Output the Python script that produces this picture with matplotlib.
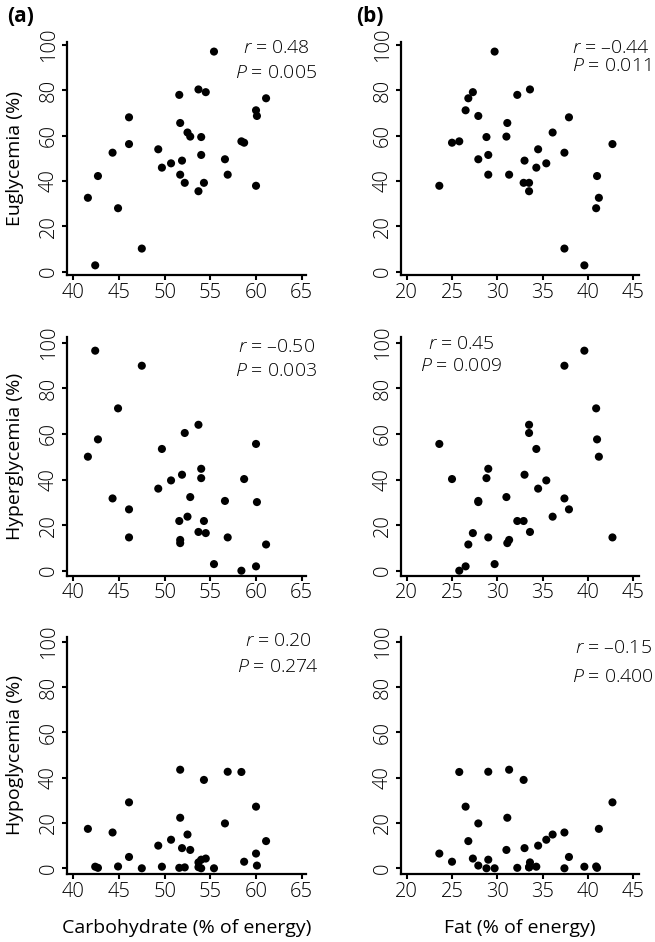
import matplotlib
matplotlib.use('Agg')
import matplotlib.pyplot as plt

# one entry per subject
carb = [55.4, 53.7, 54.5, 51.6, 61.1, 60.0, 60.1, 46.1, 51.7, 52.5, 52.8,
        54.0, 46.1, 58.4, 58.7, 44.3, 49.3, 54.0, 56.6, 51.9, 50.7, 49.7,
        42.7, 51.7, 56.9, 52.2, 54.3, 53.7, 60.0, 41.6, 44.9, 47.5, 42.4]
fat = [29.7, 33.6, 27.3, 32.2, 26.8, 26.5, 27.9, 37.9, 31.1, 36.1, 31.0,
       28.8, 42.7, 25.8, 25.0, 37.4, 34.5, 29.0, 27.9, 33.0, 35.4, 34.3,
       41.0, 31.3, 29.0, 33.5, 32.9, 33.5, 23.6, 41.2, 40.9, 37.4, 39.6]
eu = [97.1, 80.4, 79.2, 78.0, 76.5, 71.2, 68.7, 68.1, 65.6, 61.4, 59.6,
      59.4, 56.3, 57.5, 56.9, 52.5, 54.0, 51.5, 49.6, 49.0, 47.8, 45.9,
      42.2, 42.8, 42.8, 39.2, 39.2, 35.5, 37.9, 32.6, 28.0, 10.2, 2.8]
hyper = [2.9, 17.0, 16.5, 21.8, 11.5, 1.9, 30.1, 26.9, 12.1, 23.7, 32.3,
         40.6, 14.6, 0.0, 40.2, 31.7, 36.0, 44.7, 30.6, 42.1, 39.6, 53.4,
         57.6, 13.5, 14.6, 60.4, 21.8, 64.0, 55.6, 50.0, 71.2, 89.9, 96.5]
hypo = [0.0, 2.6, 4.3, 0.2, 12.0, 27.2, 1.2, 5.0, 22.3, 14.9, 8.1,
        0.0, 29.1, 42.5, 2.9, 15.8, 10.0, 3.8, 19.8, 8.9, 12.6, 0.7,
        0.2, 43.5, 42.6, 0.4, 39.0, 0.5, 6.5, 17.4, 0.8, 0.0, 0.7]

r_carb = ['0.48', '–0.50', '0.20']
p_carb = ['0.005', '0.003', '0.274']
r_fat = ['–0.44', '0.45', '–0.15']
p_fat = ['0.011', '0.009', '0.400']
ylabels = ['Euglycemia (%)', 'Hyperglycemia (%)', 'Hypoglycemia (%)']

plt.rcParams['font.family'] = ['Open Sans', 'DejaVu Sans']
plt.rcParams['font.weight'] = 'light'
plt.rcParams['mathtext.fontset'] = 'custom'
plt.rcParams['mathtext.it'] = 'Open Sans:italic:light'
plt.rcParams['mathtext.rm'] = 'Open Sans:light'

W, H = 655, 942
fig = plt.figure(figsize=(W / 100, H / 100), dpi=100)

rows = [(41.7, 275.0), (337.3, 575.7), (636.7, 874.0)]
cols = [(66.7, 306.0), (400.7, 639.3)]
ylims = [(-1.46, 101.46), (-2.19, 102.37), (-2.52, 102.2)]
xlims = [(39.28, 65.47), (19.34, 45.66)]
# text spots in axes fractions: x, y of r line, y of P line
spots = [
    [(0.875, 0.973, 0.866), (0.881, 0.973, 0.895)],
    [(0.875, 0.959, 0.859), (0.253, 0.971, 0.880)],
    [(0.884, 0.983, 0.874), (0.890, 0.952, 0.832)],
]
outcomes = [eu, hyper, hypo]

for i in range(3):
    top, bot = rows[i]
    for j in range(2):
        left, right = cols[j]
        ax = fig.add_axes([left / W, 1 - bot / H, (right - left) / W, (bot - top) / H])
        xs = carb if j == 0 else fat
        ax.scatter(xs, outcomes[i], s=34, color='black', edgecolors='none', zorder=3)
        ax.set_xlim(xlims[j])
        ax.set_ylim(ylims[i])
        ax.set_yticks([0, 20, 40, 60, 80, 100])
        if j == 0:
            ax.set_xticks([40, 45, 50, 55, 60, 65])
        else:
            ax.set_xticks([20, 25, 30, 35, 40, 45])
        for s in ['top', 'right']:
            ax.spines[s].set_visible(False)
        for s in ['left', 'bottom']:
            ax.spines[s].set_linewidth(1.6)
        ax.tick_params(direction='out', length=3.5, width=1.5, labelsize=14.5, pad=2)
        plt.setp(ax.get_yticklabels(), rotation=90, va='center')
        ax.patch.set_alpha(0)
        r = r_carb[i] if j == 0 else r_fat[i]
        p = p_carb[i] if j == 0 else p_fat[i]
        tx, ry, py = spots[i][j]
        ax.text(tx, ry, '$r$ = ' + r, transform=ax.transAxes, ha='center', va='center', fontsize=14)
        ax.text(tx, py, '$P$ = ' + p, transform=ax.transAxes, ha='center', va='center', fontsize=14)
        if j == 0:
            ax.set_ylabel(ylabels[i], fontsize=14)
            ax.yaxis.set_label_coords(-0.18, 0.5)
        if i == 2:
            ax.set_xlabel('Carbohydrate (% of energy)' if j == 0 else 'Fat (% of energy)',
                          fontsize=14)
            ax.xaxis.set_label_coords(0.5, -0.19)

fig.text(7 / W, 1 - 16 / H, '(a)', fontsize=15, fontweight='bold', va='center', ha='left')
fig.text(356 / W, 1 - 16 / H, '(b)', fontsize=15, fontweight='bold', va='center', ha='left')

fig.savefig('out.png', dpi=100)
